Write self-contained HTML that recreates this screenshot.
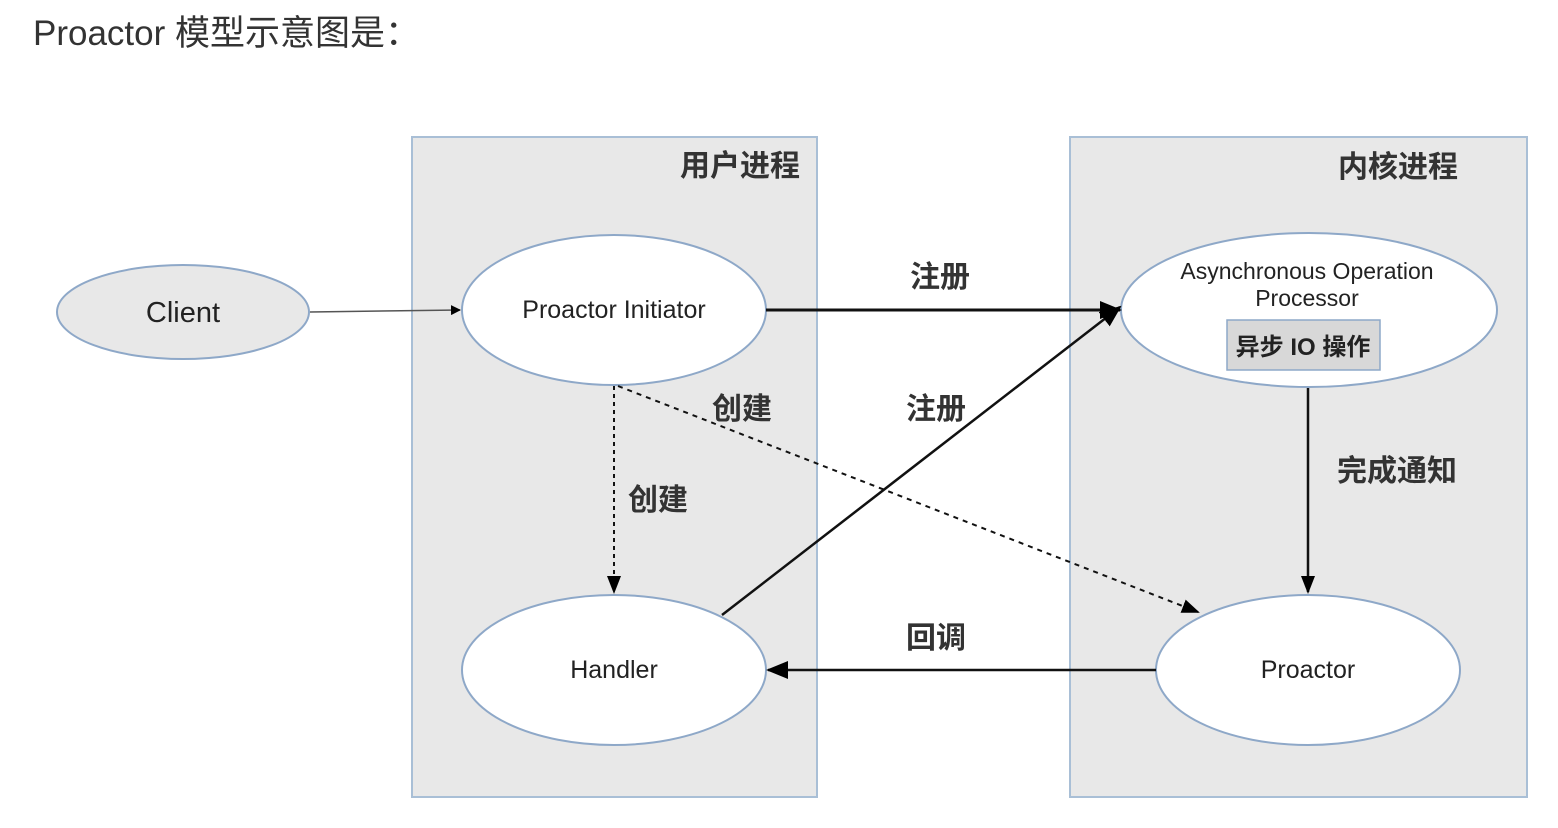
<!DOCTYPE html>
<html><head><meta charset="utf-8"><style>
html,body{margin:0;padding:0;background:#fff;width:1558px;height:828px;overflow:hidden}
svg text{font-family:"Liberation Sans","Noto Sans CJK SC",sans-serif}
</style></head><body>
<svg width="1558" height="828" xmlns="http://www.w3.org/2000/svg">
<defs>
<marker id="a" markerWidth="10" markerHeight="10" refX="9" refY="5" orient="auto" markerUnits="userSpaceOnUse"><path d="M0,0 L10,5 L0,10z" fill="#000"/></marker>
<marker id="b" markerWidth="22" markerHeight="22" refX="20" refY="11" orient="auto" markerUnits="userSpaceOnUse"><path d="M0,2 L22,11 L0,20z" fill="#000"/></marker>
<marker id="c" markerWidth="18" markerHeight="18" refX="16" refY="9" orient="auto" markerUnits="userSpaceOnUse"><path d="M0,2 L18,9 L0,16z" fill="#000"/></marker>
</defs>
<text x="33" y="45" font-size="35" fill="#333">Proactor 模型示意图是：</text>
<rect x="412" y="137" width="405" height="660" fill="#e8e8e8" stroke="#a9bfd6" stroke-width="2"/>
<rect x="1070" y="137" width="457" height="660" fill="#e8e8e8" stroke="#a9bfd6" stroke-width="2"/>
<text x="800" y="176" font-size="30" font-weight="bold" fill="#333" text-anchor="end">用户进程</text>
<text x="1458" y="177" font-size="30" font-weight="bold" fill="#333" text-anchor="end">内核进程</text>
<ellipse cx="183" cy="312" rx="126" ry="47" fill="#e8e8e8" stroke="#8ea8c8" stroke-width="2"/>
<text x="183" y="322" font-size="29" fill="#222" text-anchor="middle">Client</text>
<ellipse cx="614" cy="310" rx="152" ry="75" fill="#fff" stroke="#8ea8c8" stroke-width="2"/>
<text x="614" y="318" font-size="25" fill="#222" text-anchor="middle">Proactor Initiator</text>
<ellipse cx="614" cy="670" rx="152" ry="75" fill="#fff" stroke="#8ea8c8" stroke-width="2"/>
<text x="614" y="678" font-size="25" fill="#222" text-anchor="middle">Handler</text>
<ellipse cx="1309" cy="310" rx="188" ry="77" fill="#fff" stroke="#8ea8c8" stroke-width="2"/>
<text x="1307" y="279" font-size="23" fill="#222" text-anchor="middle">Asynchronous Operation</text>
<text x="1307" y="306" font-size="23" fill="#222" text-anchor="middle">Processor</text>
<rect x="1227" y="320" width="153" height="50" fill="#d8d8d8" stroke="#8ea8c8" stroke-width="1.5"/>
<text x="1303" y="355" font-size="24" font-weight="bold" fill="#222" text-anchor="middle">异步 IO 操作</text>
<ellipse cx="1308" cy="670" rx="152" ry="75" fill="#fff" stroke="#8ea8c8" stroke-width="2"/>
<text x="1308" y="678" font-size="25" fill="#222" text-anchor="middle">Proactor</text>
<line x1="310" y1="312" x2="460" y2="310" stroke="#555" stroke-width="1.5" marker-end="url(#a)"/>
<line x1="766" y1="310" x2="1120" y2="310" stroke="#111" stroke-width="3" marker-end="url(#b)"/>
<line x1="722" y1="615" x2="1120" y2="307" stroke="#111" stroke-width="2.5" marker-end="url(#b)"/>
<line x1="614" y1="386" x2="614" y2="592" stroke="#111" stroke-width="2" stroke-dasharray="4,4" marker-end="url(#c)"/>
<line x1="618" y1="386" x2="1198" y2="612" stroke="#111" stroke-width="2" stroke-dasharray="5,5" marker-end="url(#c)"/>
<line x1="1308" y1="388" x2="1308" y2="592" stroke="#111" stroke-width="2.5" marker-end="url(#c)"/>
<line x1="1156" y1="670" x2="768" y2="670" stroke="#111" stroke-width="2.5" marker-end="url(#b)"/>
<g font-size="30" font-weight="bold" fill="#333">
<text x="910" y="287">注册</text>
<text x="906" y="419">注册</text>
<text x="712" y="419">创建</text>
<text x="628" y="510">创建</text>
<text x="1337" y="481">完成通知</text>
<text x="906" y="648">回调</text>
</g>
</svg>
</body></html>
